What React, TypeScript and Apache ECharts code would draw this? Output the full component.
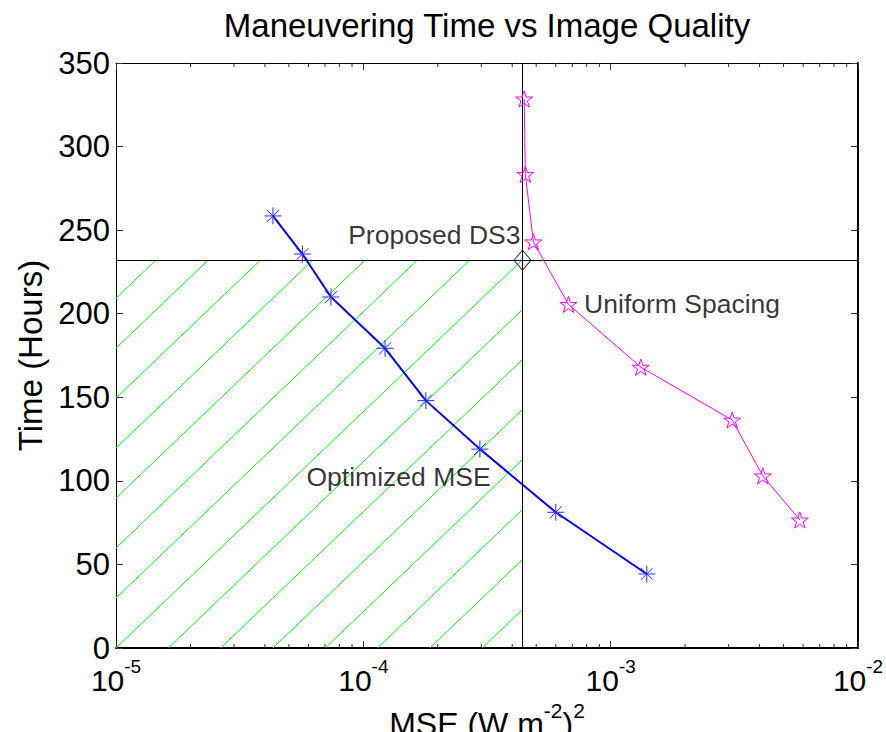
import React, { useEffect, useRef } from 'react';
import * as echarts from 'echarts';

// ---- data ----
const TITLE = 'Maneuvering Time vs Image Quality';
const X_NAME = '{n|MSE (W m}{s|-2}{n|)}{s|2}';
const Y_NAME = 'Time (Hours)';

const X_MIN = 1e-5;
const X_MAX = 1e-2;
const Y_MIN = 0;
const Y_MAX = 350;
const Y_INTERVAL = 50;

// Optimized MSE (blue asterisks)
const OPT_MSE = [4.31e-5, 5.67e-5, 7.4e-5, 1.224e-4, 1.79e-4, 2.96e-4, 6.0e-4, 1.4e-3];
const OPT_TIME = [258.5, 235.7, 210, 179.3, 148, 119, 81.2, 44.3];

// Uniform Spacing (magenta stars)
const UNI_MSE = [4.47e-4, 4.52e-4, 4.87e-4, 6.75e-4, 1.324e-3, 3.1e-3, 4.12e-3, 5.82e-3];
const UNI_TIME = [328.5, 283.4, 243, 205.6, 168, 136.4, 103, 76.6];

// Proposed DS3 design point
const DS3_MSE = 4.4e-4;
const DS3_TIME = 232;

// text annotations
const ANNOT_TEXT = ['Proposed DS3', 'Uniform Spacing', 'Optimized MSE'];
const ANNOT_MSE = [4.32e-4, 7.81e-4, 5.89e-5];
const ANNOT_TIME = [247, 205.6, 102.3];
const ANNOT_SIDE = ['left', 'right', 'right'];

// minor ticks of the log axis
const DECADES = [1e-5, 1e-4, 1e-3];
const MINOR_MULT = [2, 3, 4, 5, 6, 7, 8, 9];

// hatch spacing (decades along x, hours along y)
const HATCH_LOG_STEP = 0.2115;
const HATCH_Y_STEP = 29.9;

const FONT = "'Liberation Sans', Arial, Helvetica, sans-serif";

const STAR_PATH =
  'path://M10,0 L12.245,6.91 L19.511,6.91 L13.633,11.18 L15.878,18.09 L10,13.82 L4.122,18.09 L6.367,11.18 L0.489,6.91 L7.755,6.91 Z';
const ASTERISK_PATH =
  'path://M10,0 L10,20 M0,10 L20,10 M3,3 L17,17 M3,17 L17,3';

function hatchSegments() {
  const lx0 = Math.log10(X_MIN);
  const U = Math.log10(DS3_MSE) - lx0;
  const Y = DS3_TIME - Y_MIN;
  const segs: { coords: number[][] }[] = [];
  const kMin = -Math.ceil(Y / HATCH_Y_STEP) - 1;
  const kMax = Math.ceil(U / HATCH_LOG_STEP) + 1;
  for (let k = kMin; k <= kMax; k++) {
    const lo = Math.max(0, -k * HATCH_Y_STEP);
    const hi = Math.min(Y, (U / HATCH_LOG_STEP - k) * HATCH_Y_STEP);
    if (hi - lo < 0.5) continue;
    const p = (y: number) => [Math.pow(10, lx0 + HATCH_LOG_STEP * (k + y / HATCH_Y_STEP)), Y_MIN + y];
    segs.push({ coords: [p(lo), p(hi)] });
  }
  return segs;
}

export default function App() {
  const ref = useRef<HTMLDivElement>(null);
  useEffect(() => {
    const chart = echarts.init(ref.current!, null, { renderer: 'svg' });
    const minorTicks: number[][] = [];
    DECADES.forEach((d) => MINOR_MULT.forEach((m) => minorTicks.push([d * m, Y_MIN])));

    const expLabel = (v: number) => {
      const e = Math.round(Math.log10(v));
      return '{b|10}{s|' + e + '}';
    };

    const option: any = {
      animation: false,
      backgroundColor: '#ffffff',
      textStyle: { fontFamily: FONT },
      title: {
        text: TITLE,
        left: 487,
        textAlign: 'center',
        top: 9,
        padding: 0,
        textStyle: { fontSize: 33, fontWeight: 'normal', color: '#000', fontFamily: FONT },
      },
      grid: {
        left: 116,
        right: 28,
        top: 63,
        bottom: 84,
        containLabel: false,
        outerBoundsMode: 'none',
      },
      xAxis: [
        {
          type: 'log',
          logBase: 10,
          min: X_MIN,
          max: X_MAX,
          position: 'bottom',
          axisLine: { show: true, onZero: false, lineStyle: { color: '#000', width: 2 } },
          axisTick: { show: true, inside: true, length: 7, lineStyle: { color: '#333', width: 1 } },
          splitLine: { show: false },
          axisLabel: {
            margin: 9,
            formatter: expLabel,
            rich: {
              b: { fontSize: 30, lineHeight: 46, color: '#000', fontFamily: FONT },
              s: { fontSize: 19, lineHeight: 20, verticalAlign: 'top', color: '#000', fontFamily: FONT },
            },
          },
          name: X_NAME,
          nameLocation: 'middle',
          nameGap: 48,
          nameTextStyle: {
            rich: {
              n: { fontSize: 32, lineHeight: 48, color: '#000', fontFamily: FONT },
              s: { fontSize: 21, lineHeight: 21, verticalAlign: 'top', color: '#000', fontFamily: FONT },
            },
          },
        },
        {
          type: 'log',
          logBase: 10,
          min: X_MIN,
          max: X_MAX,
          position: 'top',
          axisLine: { show: true, onZero: false, lineStyle: { color: '#000', width: 1 } },
          axisTick: { show: true, inside: true, length: 7, lineStyle: { color: '#333', width: 1 } },
          axisLabel: { show: false },
          splitLine: { show: false },
        },
      ],
      yAxis: [
        {
          type: 'value',
          min: Y_MIN,
          max: Y_MAX,
          interval: Y_INTERVAL,
          position: 'left',
          axisLine: { show: true, onZero: false, lineStyle: { color: '#000', width: 1 } },
          axisTick: { show: true, inside: true, length: 7, lineStyle: { color: '#333', width: 1 } },
          splitLine: { show: false },
          axisLabel: { margin: 6, fontSize: 31, color: '#000', fontFamily: FONT },
          name: Y_NAME,
          nameLocation: 'middle',
          nameRotate: 90,
          nameGap: 66,
          nameTextStyle: { fontSize: 33, color: '#000', fontFamily: FONT },
        },
        {
          type: 'value',
          min: Y_MIN,
          max: Y_MAX,
          interval: Y_INTERVAL,
          position: 'right',
          axisLine: { show: true, onZero: false, lineStyle: { color: '#000', width: 2 } },
          axisTick: { show: true, inside: true, length: 7, lineStyle: { color: '#333', width: 1 } },
          axisLabel: { show: false },
          splitLine: { show: false },
        },
      ],
      series: [
        {
          name: 'hatch',
          type: 'lines',
          coordinateSystem: 'cartesian2d',
          xAxisIndex: 0,
          yAxisIndex: 0,
          silent: true,
          z: 1,
          lineStyle: { color: '#00ff00', width: 1, opacity: 1 },
          data: hatchSegments(),
        },
        {
          name: 'minorTicks',
          type: 'custom',
          coordinateSystem: 'cartesian2d',
          xAxisIndex: 0,
          yAxisIndex: 0,
          silent: true,
          z: 2,
          data: minorTicks,
          renderItem: (_p: any, api: any) => {
            const v = api.value(0);
            const b = api.coord([v, Y_MIN]);
            const t = api.coord([v, Y_MAX]);
            return {
              type: 'group',
              children: [
                { type: 'line', shape: { x1: b[0], y1: b[1], x2: b[0], y2: b[1] - 4 }, style: { stroke: '#333', lineWidth: 1 } },
                { type: 'line', shape: { x1: t[0], y1: t[1], x2: t[0], y2: t[1] + 4 }, style: { stroke: '#333', lineWidth: 1 } },
              ],
            };
          },
        },
        {
          name: 'referenceLines',
          type: 'lines',
          coordinateSystem: 'cartesian2d',
          xAxisIndex: 0,
          yAxisIndex: 0,
          silent: true,
          z: 3,
          lineStyle: { color: '#000', width: 1, opacity: 1 },
          data: [
            { coords: [[X_MIN, DS3_TIME], [X_MAX, DS3_TIME]] },
            { coords: [[DS3_MSE, Y_MIN], [DS3_MSE, Y_MAX]] },
          ],
        },
        {
          name: 'Uniform Spacing',
          type: 'line',
          xAxisIndex: 0,
          yAxisIndex: 0,
          z: 4,
          data: UNI_MSE.map((x, i) => [x, UNI_TIME[i]]),
          lineStyle: { color: '#ff00ff', width: 1 },
          symbol: STAR_PATH,
          symbolSize: 17,
          symbolKeepAspect: true,
          itemStyle: { color: 'rgba(0,0,0,0)', borderColor: '#ff00ff', borderWidth: 1 },
        },
        {
          name: 'Optimized MSE',
          type: 'line',
          xAxisIndex: 0,
          yAxisIndex: 0,
          z: 5,
          data: OPT_MSE.map((x, i) => [x, OPT_TIME[i]]),
          lineStyle: { color: '#0000ff', width: 2 },
          symbol: ASTERISK_PATH,
          symbolSize: 17,
          itemStyle: { color: 'rgba(0,0,0,0)', borderColor: '#2a2aff', borderWidth: 1 },
        },
        {
          name: 'Proposed DS3',
          type: 'scatter',
          xAxisIndex: 0,
          yAxisIndex: 0,
          z: 6,
          data: [[DS3_MSE, DS3_TIME]],
          symbol: 'diamond',
          symbolSize: [17, 20],
          itemStyle: { color: 'rgba(0,0,0,0)', borderColor: '#000', borderWidth: 1 },
        },
        {
          name: 'annotations',
          type: 'scatter',
          xAxisIndex: 0,
          yAxisIndex: 0,
          z: 7,
          silent: true,
          symbolSize: 0,
          data: ANNOT_TEXT.map((t, i) => ({
            value: [ANNOT_MSE[i], ANNOT_TIME[i]],
            label: {
              show: true,
              formatter: t,
              position: ANNOT_SIDE[i],
              distance: 0,
              fontSize: 26.5,
              color: '#000',
              fontFamily: FONT,
            },
          })),
        },
      ],
    };
    chart.setOption(option);
    return () => chart.dispose();
  }, []);
  return (
    <div
      ref={ref}
      style={{ position: 'fixed', left: 0, top: 0, width: 886, height: 732, background: '#fff' }}
    />
  );
}
